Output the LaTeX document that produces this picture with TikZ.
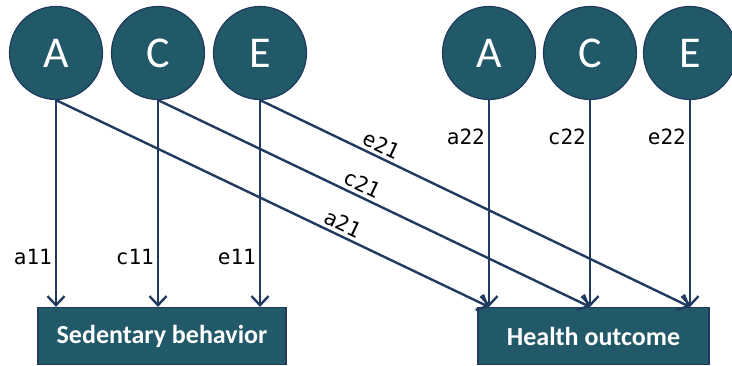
\documentclass[tikz,border=0pt]{standalone}
\usepackage{fontspec}
\setmainfont{Carlito}
\newfontfamily\coeffont{DejaVu Sans Mono}
\usetikzlibrary{arrows.meta}
\definecolor{acefill}{HTML}{215968}
\definecolor{aceline}{HTML}{203A60}

\begin{document}
\begin{tikzpicture}[x=1pt,y=-1pt,
	latent/.style={circle,fill=acefill,draw=aceline,line width=1.2pt,minimum size=93pt,inner sep=0pt,text=white,font=\fontsize{44}{44}\selectfont},
	observed/.style={rectangle,fill=acefill,draw=aceline,line width=1.2pt,minimum height=57pt,inner sep=0pt,text=white,font=\bfseries\fontsize{26}{26}\selectfont},
	loading/.style={color=aceline,line width=2.4pt,-{Straight Barb[length=9pt,width=17pt]}},
	coef/.style={font=\coeffont\fontsize{21}{21}\selectfont,text=black,inner sep=3pt}]
	\useasboundingbox (0,0) rectangle (732,366);

	\node[latent] (A1) at (56,53) {A};
	\node[latent] (C1) at (158,53) {C};
	\node[latent] (E1) at (260,53) {E};
	\node[latent] (A2) at (489,53) {A};
	\node[latent] (C2) at (590,53) {C};
	\node[latent] (E2) at (690,53) {E};

	\node[observed,minimum width=248pt] (SB) at (162,336) {Sedentary behavior};
	\node[observed,minimum width=231pt] (HO) at (593.5,336) {Health outcome};

	\path[loading] (A1.south) edge node[coef,left,pos=0.76]{a11} (A1.south |- SB.north);
	\path[loading] (C1.south) edge node[coef,left,pos=0.76]{c11} (C1.south |- SB.north);
	\path[loading] (E1.south) edge node[coef,left,pos=0.76]{e11} (E1.south |- SB.north);

	\path[loading] (A2.south) edge node[coef,left,pos=0.18]{a22} (A2.south |- HO.north);
	\path[loading] (C2.south) edge node[coef,left,pos=0.18]{c22} (C2.south |- HO.north);
	\path[loading] (E2.south) edge node[coef,left,pos=0.18]{e22} (E2.south |- HO.north);

	\path[loading] (A1.south) edge node[coef,above,sloped,pos=0.65]{a21} (A2.south |- HO.north);
	\path[loading] (C1.south) edge node[coef,above,sloped,pos=0.46]{c21} (C2.south |- HO.north);
	\path[loading] (E1.south) edge node[coef,above,sloped,pos=0.27]{e21} (E2.south |- HO.north);
\end{tikzpicture}
\end{document}
